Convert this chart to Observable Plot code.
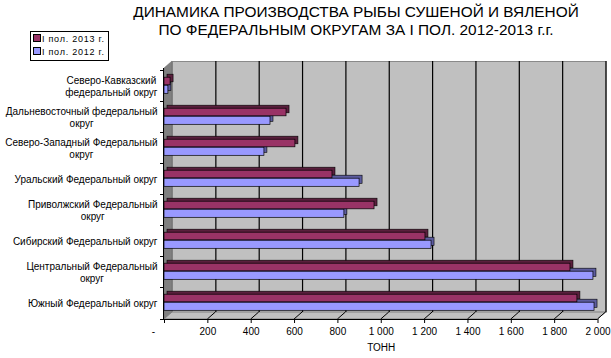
<!DOCTYPE html>
<html><head><meta charset="utf-8">
<script src="https://cdn.jsdelivr.net/npm/d3@7"></script>
<script src="https://cdn.jsdelivr.net/npm/@observablehq/plot@0.6"></script>
<style>
body{margin:0;background:#fff;font-family:"Liberation Sans",Arial,sans-serif;}
#wrap{position:relative;width:611px;height:358px;overflow:hidden;}
#title{position:absolute;left:100px;width:512px;top:3px;text-align:center;font-size:15.4px;line-height:18px;color:#000;}
#legend{position:absolute;left:30px;top:31px;width:77px;height:28px;border:1px solid #000;background:#fff;font-size:9px;letter-spacing:0.75px;}
#legend div{position:absolute;left:2px;height:10px;line-height:10px;white-space:nowrap;}
#legend span.sw{display:inline-block;width:6px;height:6px;border:1px solid #000;margin-right:1px;vertical-align:-0px;}
</style></head>
<body>
<div id="wrap">
<div id="title">ДИНАМИКА ПРОИЗВОДСТВА РЫБЫ СУШЕНОЙ И ВЯЛЕНОЙ<br>ПО ФЕДЕРАЛЬНЫМ ОКРУГАМ ЗА I ПОЛ. 2012-2013 г.г.</div>
<div id="chart"></div>
<div id="legend"></div>
</div>
<script>
const regions = [
  "Северо-Кавказский федеральный округ",
  "Дальневосточный федеральный округ",
  "Северо-Западный Федеральный округ",
  "Уральский Федеральный округ",
  "Приволжский Федеральный округ",
  "Сибирский Федеральный округ",
  "Центральный Федеральный округ",
  "Южный Федеральный округ"
];
const regionLabels = [
  "Северо-Кавказский\nфедеральный округ",
  "Дальневосточный федеральный\nокруг",
  "Северо-Западный Федеральный\nокруг",
  "Уральский Федеральный округ",
  "Приволжский Федеральный\nокруг",
  "Сибирский Федеральный округ",
  "Центральный Федеральный\nокруг",
  "Южный Федеральный округ"
];
const series = ["I пол. 2013 г.", "I пол. 2012 г."];
const values2013 = [28, 563, 604, 775, 969, 1204, 1873, 1905];
const values2012 = [18, 489, 461, 900, 830, 1232, 1979, 1984];
const xTicks = [0, 200, 400, 600, 800, 1000, 1200, 1400, 1600, 1800, 2000];
const xTickLabels = ["-\u00a0\u00a0\u00a0\u00a0\u00a0\u00a0\u00a0\u00a0", "200", "400", "600", "800", "1 000", "1 200", "1 400", "1 600", "1 800", "2 000"];
const xLabel = "ТОНН";
const colors = ["#993366", "#9999FF"];
const sideColors = ["#5a1f3d", "#5c5c9e"];

const d2013 = regions.map((r, i) => ({region: r, value: values2013[i]}));
const d2012 = regions.map((r, i) => ({region: r, value: values2012[i]}));

const W = 611, H = 358, mL = 164, mR = 13.5, mT = 68, mB = 39;
const step = (H - mT - mB) / regions.length;
const half = step / 2;
const DX = 8, DY = -7, BD = 3;

function decor(index, scales, values, dim) {
  const x = scales.x;
  const x0 = x(0), x1 = x(2000);
  const top = dim.marginTop, bot = dim.height - dim.marginBottom;
  const g = d3.create("svg:g");
  g.append("path").attr("d", `M${x0},${top}L${x0+DX},${top+DY}L${x0+DX},${bot+DY}L${x0},${bot}Z`)
    .attr("fill", "#808080").attr("stroke", "#666").attr("stroke-width", 0.5);
  g.append("path").attr("d", `M${x0},${bot}L${x1},${bot}L${x1+DX},${bot+DY}L${x0+DX},${bot+DY}Z`)
    .attr("fill", "#c0c0c0").attr("stroke", "#808080").attr("stroke-width", 1);
  for (const t of xTicks) {
    if (t === 0) continue;
    g.append("line").attr("x1", x(t)).attr("y1", bot).attr("x2", x(t)+DX).attr("y2", bot+DY)
      .attr("stroke", "#000").attr("stroke-width", 1);
  }
  return g.node();
}
function axes(index, scales, values, dim) {
  const x = scales.x, y = scales.y;
  const x0 = x(0), x1 = x(2000);
  const top = dim.marginTop, bot = dim.height - dim.marginBottom;
  const g = d3.create("svg:g").attr("stroke", "#000").attr("stroke-width", 1);
  g.append("line").attr("x1", x0 - 0.5).attr("x2", x0 - 0.5).attr("y1", top).attr("y2", bot);
  g.append("line").attr("x1", x0 - 0.5).attr("x2", x1).attr("y1", bot + 0.5).attr("y2", bot + 0.5);
  for (const r of regions) {
    const yy = Math.round(y(r)) + 0.5;
    g.append("line").attr("x1", x0 - 4).attr("x2", x0).attr("y1", yy).attr("y2", yy);
  }
  g.append("line").attr("x1", x0 - 4).attr("x2", x0).attr("y1", bot + 0.5).attr("y2", bot + 0.5);
  return g.node();
}

const chart = Plot.plot({
  width: W, height: H,
  marginLeft: mL, marginRight: mR, marginTop: mT, marginBottom: mB,
  style: {fontFamily: "Liberation Sans, Arial, sans-serif", background: "transparent"},
  x: {domain: [0, 2000], axis: null, label: null},
  y: {domain: regions, type: "band", padding: 0, axis: null, label: null},
  marks: [
    Plot.frame({fill: "#c0c0c0", stroke: "#8a8a8a", dx: DX, dy: DY}),
    decor,
    Plot.ruleX(xTicks.filter(t => t > 0), {x: d => d, dx: DX, dy: DY, stroke: "#000", strokeWidth: 1.2}),
    Plot.barX(d2012, {x: "value", y: "region", fill: sideColors[1], stroke: "#000", strokeWidth: 0.6,
      insetTop: half - 0.5, insetBottom: half - 8, dx: BD, dy: -BD}),
    Plot.barX(d2012, {x: "value", y: "region", fill: colors[1], stroke: "#000", strokeWidth: 0.7,
      insetTop: half - 0.5, insetBottom: half - 8}),
    Plot.barX(d2013, {x: "value", y: "region", fill: sideColors[0], stroke: "#000", strokeWidth: 0.6,
      insetTop: half - 8.5, insetBottom: half + 0.5, dx: BD, dy: -BD}),
    Plot.barX(d2013, {x: "value", y: "region", fill: colors[0], stroke: "#000", strokeWidth: 0.7,
      insetTop: half - 8.5, insetBottom: half + 0.5}),
    axes,
    Plot.axisY({tickSize: 0, tickPadding: 7, fontSize: 10, lineHeight: 1.2, label: null,
      tickFormat: d => regionLabels[regions.indexOf(d)]}),
    Plot.axisX(xTicks, {tickSize: 4, tickPadding: 4, fontSize: 10, label: null,
      tickFormat: d => xTickLabels[xTicks.indexOf(d)]}),
    Plot.text([xLabel], {frameAnchor: "bottom", dy: 31, fontSize: 10, text: d => d})
  ]
});
document.getElementById("chart").appendChild(chart);

chart.querySelectorAll("text").forEach(t => {
  const spans = t.querySelectorAll("tspan");
  if (spans.length > 1) {
    const widths = Array.from(spans).map(s => s.getComputedTextLength());
    const maxW = Math.max(...widths);
    t.setAttribute("text-anchor", "middle");
    spans.forEach(s => s.setAttribute("x", -maxW / 2));
  }
});

const lg = document.getElementById("legend");
series.forEach((s, i) => {
  const row = document.createElement("div");
  row.style.top = (2 + i * 13) + "px";
  row.innerHTML = `<span class="sw" style="background:${colors[i]}"></span>${s}`;
  lg.appendChild(row);
});
</script>
</body></html>
